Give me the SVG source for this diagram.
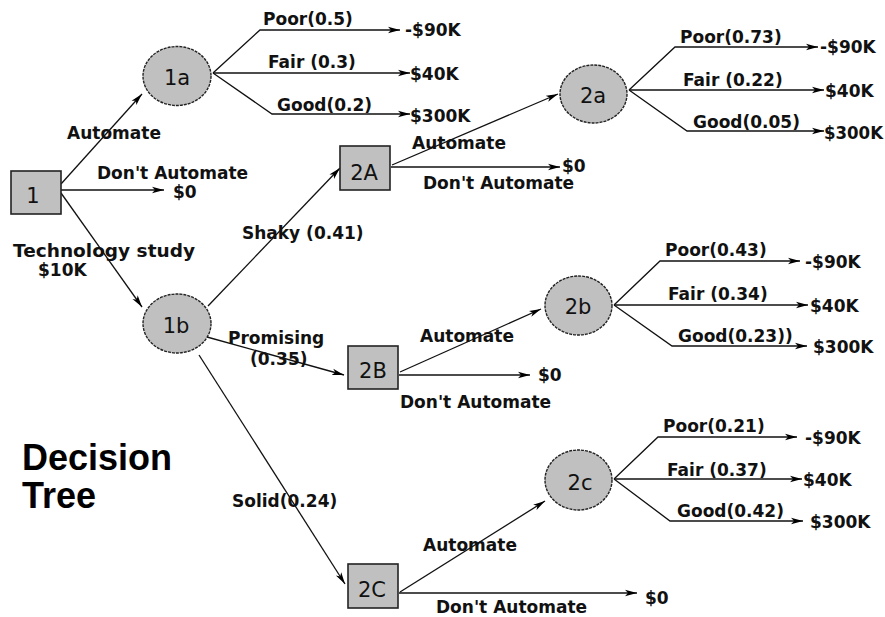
<svg xmlns="http://www.w3.org/2000/svg" width="885" height="617" viewBox="0 0 885 617">
  <defs>
    <style>
      .edge { fill: none; stroke: #111; stroke-width: 1.3; }
      .box { fill: #c0c0c0; stroke: #222; stroke-width: 1.6; }
      .chance { fill: #c0c0c0; stroke: #222; stroke-width: 1.4; stroke-dasharray: 3 1; }
      .nlabel { font-family: "DejaVu Sans", sans-serif; font-size: 21px; fill: #111; text-anchor: middle; }
      .lbl { font-family: "DejaVu Sans", sans-serif; font-size: 17px; font-weight: bold; fill: #111; }
      .title { font-family: "Liberation Sans", Arial, sans-serif; font-size: 36px; font-weight: bold; fill: #000; }
    </style>
    <marker id="ah" markerWidth="14" markerHeight="8" refX="12" refY="4" orient="auto" markerUnits="userSpaceOnUse">
      <path d="M0,0.8 L12,4 L0,7.2 L3,4 z" fill="#000"/>
    </marker>
  </defs>
  <rect width="885" height="617" fill="#fff"/>

  <!-- connectors -->
  <g id="connectors">
    <line class="edge" x1="61" y1="184" x2="142" y2="94" marker-end="url(#ah)"/>
    <line class="edge" x1="61" y1="190" x2="164" y2="190" marker-end="url(#ah)"/>
    <line class="edge" x1="61" y1="193" x2="142" y2="307" marker-end="url(#ah)"/>

    <polyline class="edge" points="213,73 260,30 400,30" marker-end="url(#ah)"/>
    <line class="edge" x1="213" y1="73" x2="410" y2="73" marker-end="url(#ah)"/>
    <polyline class="edge" points="213,73 272,114 410,114" marker-end="url(#ah)"/>

    <line class="edge" x1="208" y1="306" x2="340" y2="168" marker-end="url(#ah)"/>
    <line class="edge" x1="207" y1="337" x2="344" y2="375" marker-end="url(#ah)"/>
    <line class="edge" x1="199" y1="355" x2="345" y2="584" marker-end="url(#ah)"/>

    <line class="edge" x1="392" y1="165" x2="558" y2="94" marker-end="url(#ah)"/>
    <line class="edge" x1="391" y1="167" x2="560" y2="167" marker-end="url(#ah)"/>

    <polyline class="edge" points="629,90 675,47 818,47" marker-end="url(#ah)"/>
    <line class="edge" x1="629" y1="90" x2="824" y2="90" marker-end="url(#ah)"/>
    <polyline class="edge" points="629,90 687,131 824,131" marker-end="url(#ah)"/>

    <line class="edge" x1="400" y1="372" x2="541" y2="309" marker-end="url(#ah)"/>
    <line class="edge" x1="399" y1="375" x2="530" y2="375" marker-end="url(#ah)"/>

    <polyline class="edge" points="614,305 660,261 800,261" marker-end="url(#ah)"/>
    <line class="edge" x1="614" y1="305" x2="808" y2="305" marker-end="url(#ah)"/>
    <polyline class="edge" points="614,305 672,346 807,346" marker-end="url(#ah)"/>

    <line class="edge" x1="400" y1="592" x2="545" y2="501" marker-end="url(#ah)"/>
    <line class="edge" x1="399" y1="593" x2="637" y2="593" marker-end="url(#ah)"/>

    <polyline class="edge" points="614,479 658,437 797,437" marker-end="url(#ah)"/>
    <line class="edge" x1="614" y1="479" x2="802" y2="479" marker-end="url(#ah)"/>
    <polyline class="edge" points="614,479 670,521 803,521" marker-end="url(#ah)"/>
  </g>

  <!-- decision nodes -->
  <g id="node-1">
    <rect class="box" x="11" y="171" width="50" height="43"/>
    <text class="nlabel" x="33" y="203">1</text>
  </g>
  <g id="node-2A">
    <rect class="box" x="340" y="146" width="50" height="44"/>
    <text class="nlabel" x="364" y="180">2A</text>
  </g>
  <g id="node-2B">
    <rect class="box" x="348" y="346" width="50" height="43"/>
    <text class="nlabel" x="373" y="378">2B</text>
  </g>
  <g id="node-2C">
    <rect class="box" x="348" y="564" width="50" height="44"/>
    <text class="nlabel" x="372" y="597">2C</text>
  </g>

  <!-- chance nodes -->
  <g id="node-1a">
    <ellipse class="chance" cx="177" cy="76" rx="34" ry="29.5"/>
    <text class="nlabel" x="177" y="85">1a</text>
  </g>
  <g id="node-1b">
    <ellipse class="chance" cx="177" cy="323.5" rx="34" ry="29.5"/>
    <text class="nlabel" x="176" y="333">1b</text>
  </g>
  <g id="node-2a">
    <ellipse class="chance" cx="593.5" cy="94" rx="33.5" ry="29"/>
    <text class="nlabel" x="593" y="103">2a</text>
  </g>
  <g id="node-2b">
    <ellipse class="chance" cx="578.5" cy="305.5" rx="33.5" ry="29.5"/>
    <text class="nlabel" x="578" y="314">2b</text>
  </g>
  <g id="node-2c">
    <ellipse class="chance" cx="578.5" cy="480" rx="33.5" ry="30"/>
    <text class="nlabel" x="580" y="490">2c</text>
  </g>

  <!-- branch labels and payoffs -->
  <g id="labels">
    <text class="lbl" x="67" y="139">Automate</text>
    <text class="lbl" x="97" y="179">Don't Automate</text>
    <text class="lbl" x="173" y="198">$0</text>
    <text class="lbl" x="13" y="257" textLength="182" lengthAdjust="spacingAndGlyphs">Technology study</text>
    <text class="lbl" x="38" y="276">$10K</text>

    <text class="lbl" x="263" y="25">Poor(0.5)</text>
    <text class="lbl" x="405" y="36">-$90K</text>
    <text class="lbl" x="268" y="68">Fair (0.3)</text>
    <text class="lbl" x="410" y="80">$40K</text>
    <text class="lbl" x="277" y="111">Good(0.2)</text>
    <text class="lbl" x="410" y="122">$300K</text>

    <text class="lbl" x="242" y="239">Shaky (0.41)</text>
    <text class="lbl" x="412" y="149">Automate</text>
    <text class="lbl" x="423" y="189">Don't Automate</text>
    <text class="lbl" x="562" y="172">$0</text>

    <text class="lbl" x="680" y="43">Poor(0.73)</text>
    <text class="lbl" x="820" y="53">-$90K</text>
    <text class="lbl" x="683" y="86">Fair (0.22)</text>
    <text class="lbl" x="825" y="97">$40K</text>
    <text class="lbl" x="693" y="128">Good(0.05)</text>
    <text class="lbl" x="824" y="139" textLength="59" lengthAdjust="spacingAndGlyphs">$300K</text>

    <text class="lbl" x="228" y="344">Promising</text>
    <text class="lbl" x="250" y="365">(0.35)</text>
    <text class="lbl" x="420" y="342">Automate</text>
    <text class="lbl" x="538" y="381">$0</text>
    <text class="lbl" x="400" y="408">Don't Automate</text>

    <text class="lbl" x="665" y="256">Poor(0.43)</text>
    <text class="lbl" x="805" y="268">-$90K</text>
    <text class="lbl" x="668" y="300">Fair (0.34)</text>
    <text class="lbl" x="810" y="312">$40K</text>
    <text class="lbl" x="678" y="342">Good(0.23))</text>
    <text class="lbl" x="813" y="353">$300K</text>

    <text class="lbl" x="232" y="507">Solid(0.24)</text>
    <text class="lbl" x="423" y="551">Automate</text>
    <text class="lbl" x="645" y="604">$0</text>
    <text class="lbl" x="436" y="613">Don't Automate</text>

    <text class="lbl" x="663" y="432">Poor(0.21)</text>
    <text class="lbl" x="805" y="444">-$90K</text>
    <text class="lbl" x="667" y="476">Fair (0.37)</text>
    <text class="lbl" x="803" y="486">$40K</text>
    <text class="lbl" x="677" y="517">Good(0.42)</text>
    <text class="lbl" x="810" y="528">$300K</text>
  </g>

  <!-- title -->
  <g id="title">
    <text class="title" x="22" y="470">Decision</text>
    <text class="title" x="22" y="508">Tree</text>
  </g>
</svg>
